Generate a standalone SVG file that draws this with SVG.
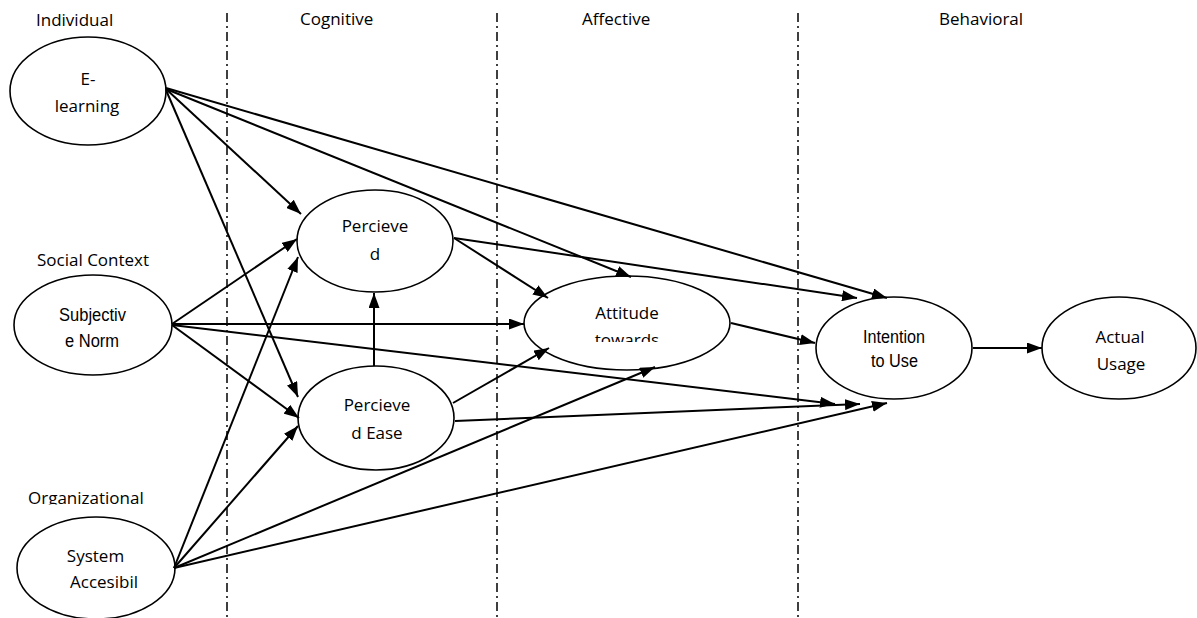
<svg xmlns="http://www.w3.org/2000/svg" width="1197" height="618" viewBox="0 0 1197 618">
<style>
.lbl{font-family:"Open Sans","Noto Sans",sans-serif;font-size:17px;fill:#000}
.nar{font-family:"Liberation Sans",Arial,sans-serif;font-size:17.5px;fill:#000}
.node ellipse{fill:#fff;stroke:#000;stroke-width:1.6}
.div line{stroke:#000;stroke-width:1.5;stroke-dasharray:9 4 2 4}
#connectors line{stroke:#000;stroke-width:2;fill:none}
</style>
<defs>
<marker id="ah" markerUnits="userSpaceOnUse" markerWidth="15" markerHeight="11" refX="15" refY="5.5" orient="auto">
<path d="M0,0 L15,5.5 L0,11 z" fill="#000"/>
</marker>
<clipPath id="clipAtt"><rect x="520" y="280" width="220" height="62"/></clipPath>
<clipPath id="clipOrg"><rect x="0" y="480" width="200" height="24.5"/></clipPath>
</defs>
<rect width="1197" height="618" fill="#fff"/>
<g class="div" id="dividers">
<line x1="227" y1="13" x2="227" y2="618"/>
<line x1="497" y1="13" x2="497" y2="618"/>
<line x1="798" y1="13" x2="798" y2="618"/>
</g>
<g id="headers">
<text class="lbl" x="36" y="26">Individual</text>
<text class="lbl" x="300" y="25">Cognitive</text>
<text class="lbl" x="582" y="25">Affective</text>
<text class="lbl" x="939" y="25">Behavioral</text>
<text class="lbl" x="37" y="266">Social Context</text>
<text class="lbl" x="28" y="504" clip-path="url(#clipOrg)">Organizational</text>
</g>
<g class="node" id="elearning">
<ellipse cx="88" cy="91" rx="78" ry="54"/>
<text class="lbl" x="88" y="85" text-anchor="middle">E-</text>
<text class="lbl" x="87" y="112" text-anchor="middle">learning</text>
</g>
<g class="node" id="subjective">
<ellipse cx="93" cy="325" rx="79" ry="50"/>
<text class="nar" x="92.5" y="321" text-anchor="middle" textLength="67" lengthAdjust="spacingAndGlyphs">Subjectiv</text>
<text class="nar" x="92" y="347" text-anchor="middle" textLength="54" lengthAdjust="spacingAndGlyphs">e Norm</text>
</g>
<g class="node" id="system">
<ellipse cx="96" cy="568" rx="79" ry="51"/>
<text class="lbl" x="95.5" y="562" text-anchor="middle">System</text>
<text class="lbl" x="104" y="588" text-anchor="middle">Accesibil</text>
</g>
<g class="node" id="perceived">
<ellipse cx="375" cy="241" rx="78" ry="51"/>
<text class="lbl" x="375" y="232" text-anchor="middle">Percieve</text>
<text class="lbl" x="375" y="260" text-anchor="middle">d</text>
</g>
<g class="node" id="perceivedease">
<ellipse cx="376" cy="418" rx="78" ry="52"/>
<text class="lbl" x="377" y="411" text-anchor="middle">Percieve</text>
<text class="lbl" x="377" y="439" text-anchor="middle">d Ease</text>
</g>
<g class="node" id="attitude">
<ellipse cx="627" cy="323" rx="103" ry="47"/>
<g clip-path="url(#clipAtt)">
<text class="lbl" x="627" y="319" text-anchor="middle">Attitude</text>
<text class="lbl" x="627" y="346" text-anchor="middle">towards</text>
</g>
</g>
<g class="node" id="intention">
<ellipse cx="894" cy="348" rx="78" ry="51"/>
<text class="nar" x="894" y="343" text-anchor="middle" textLength="62" lengthAdjust="spacingAndGlyphs">Intention</text>
<text class="nar" x="894.5" y="367" text-anchor="middle" textLength="47" lengthAdjust="spacingAndGlyphs">to Use</text>
</g>
<g class="node" id="actual">
<ellipse cx="1119" cy="348" rx="77" ry="51"/>
<text class="lbl" x="1120" y="343" text-anchor="middle">Actual</text>
<text class="lbl" x="1121" y="370" text-anchor="middle">Usage</text>
</g>
<g id="connectors" marker-end="url(#ah)">
<line x1="166" y1="89" x2="301" y2="214" marker-end="url(#ah)"/>
<line x1="166" y1="90" x2="298" y2="397" marker-end="url(#ah)"/>
<line x1="166" y1="89" x2="631" y2="277" marker-end="url(#ah)"/>
<line x1="166" y1="88" x2="887" y2="298" marker-end="url(#ah)"/>
<line x1="172" y1="324" x2="297" y2="239" marker-end="url(#ah)"/>
<line x1="172" y1="324" x2="524" y2="324" marker-end="url(#ah)"/>
<line x1="172" y1="325" x2="835" y2="404" marker-end="url(#ah)"/>
<line x1="172" y1="325" x2="299" y2="418" marker-end="url(#ah)"/>
<line x1="174" y1="568" x2="298" y2="257" marker-end="url(#ah)"/>
<line x1="174" y1="568" x2="298" y2="426" marker-end="url(#ah)"/>
<line x1="174" y1="568" x2="655" y2="367" marker-end="url(#ah)"/>
<line x1="174" y1="568" x2="887" y2="403" marker-end="url(#ah)"/>
<line x1="454" y1="238" x2="548" y2="298" marker-end="url(#ah)"/>
<line x1="454" y1="238" x2="857" y2="298" marker-end="url(#ah)"/>
<line x1="374" y1="366" x2="374" y2="293" marker-end="url(#ah)"/>
<line x1="453" y1="403" x2="549" y2="348" marker-end="url(#ah)"/>
<line x1="455" y1="421" x2="860" y2="404" marker-end="url(#ah)"/>
<line x1="731" y1="323" x2="815" y2="343" marker-end="url(#ah)"/>
<line x1="973" y1="348" x2="1042" y2="348" marker-end="url(#ah)"/>
</g>
</svg>
